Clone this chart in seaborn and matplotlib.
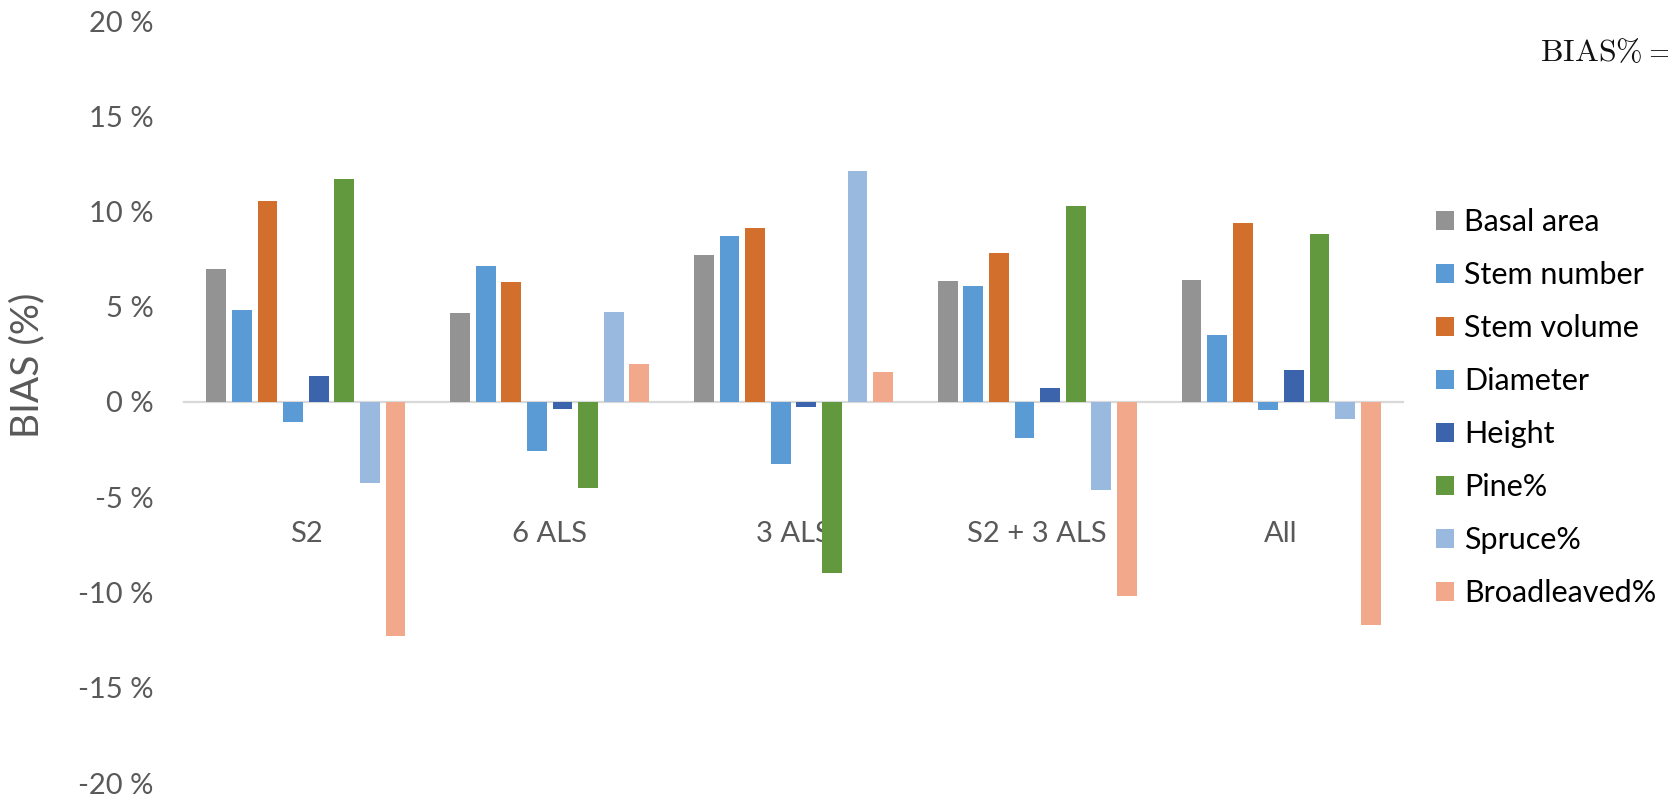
import numpy as np
import pandas as pd
import matplotlib
matplotlib.use("Agg")
import matplotlib.pyplot as plt
import seaborn as sns

categories = ["S2", "6 ALS", "3 ALS", "S2 + 3 ALS", "All"]
series = ["Basal area", "Stem number", "Stem volume", "Diameter",
          "Height", "Pine%", "Spruce%", "Broadleaved%"]
basal_area = [7.0, 4.65, 7.7, 6.35, 6.4]
stem_number = [4.85, 7.15, 8.7, 6.1, 3.5]
stem_volume = [10.55, 6.3, 9.15, 7.8, 9.4]
diameter = [-1.07, -2.56, -3.25, -1.9, -0.43]
height = [1.35, -0.35, -0.27, 0.72, 1.68]
pine = [11.7, -4.53, -9.0, 10.3, 8.8]
spruce = [-4.24, 4.75, 12.1, -4.6, -0.9]
broadleaved = [-12.3, 1.97, 1.6, -10.2, -11.7]
y_ticks = [-20, -15, -10, -5, 0, 5, 10, 15, 20]
y_tick_labels = ["-20 %", "-15 %", "-10 %", "-5 %", "0 %", "5 %", "10 %", "15 %", "20 %"]

values = [basal_area, stem_number, stem_volume, diameter, height, pine, spruce, broadleaved]
colors = ["#939393", "#5B9BD5", "#D36F2C", "#5B9BD5",
          "#3C64AD", "#62993E", "#99B9DF", "#F1A88B"]

rows = []
for s, vals in zip(series, values):
    for c, v in zip(categories, vals):
        rows.append({"Category": c, "Variable": s, "Bias": v})
df = pd.DataFrame(rows)

sns.set_theme(style="white")
plt.rcParams["font.family"] = ["Lato", "DejaVu Sans"]
text_color = "#595959"

fig = plt.figure(figsize=(16.68, 7.96), dpi=100)
ax = fig.add_axes([184 / 1668, 13 / 796, 1219 / 1668, 762 / 796])

sns.barplot(data=df, x="Category", y="Bias", hue="Variable",
            order=categories, hue_order=series, palette=colors,
            width=0.84, gap=0.23, saturation=1, linewidth=0,
            errorbar=None, ax=ax, legend=True)

ax.set_ylim(-20, 20)
ax.set_xlim(-0.5, len(categories) - 0.5)
ax.set_yticks(y_ticks)
ax.set_yticklabels(y_tick_labels)
ax.set_xlabel("")
ax.set_ylabel("")
for side in ["top", "right", "left"]:
    ax.spines[side].set_visible(False)
ax.spines["bottom"].set_position(("data", 0))
ax.spines["bottom"].set_color("#D9D9D9")
ax.spines["bottom"].set_linewidth(1.6)
ax.spines["bottom"].set_zorder(0.5)
ax.tick_params(axis="y", length=0, pad=22, labelsize=21, labelcolor=text_color)
ax.tick_params(axis="x", length=0, pad=86, labelsize=21, labelcolor=text_color)
ax.grid(False)

fig.text(27 / 1668, 1 - 365 / 796, "BIAS (%)", rotation=90, ha="center",
         va="center", fontsize=28, color=text_color)

handles, labels = ax.get_legend_handles_labels()
ax.get_legend().remove()
fig.legend(handles, labels, loc="upper left",
           bbox_to_anchor=(1436 / 1668, 1 - 208 / 796), frameon=False,
           fontsize=22, handlelength=0.59, handleheight=0.59,
           handletextpad=0.33, labelspacing=0.82, labelcolor="#000000",
           borderaxespad=0, borderpad=0)

fig.text(1540 / 1668, 1 - 62 / 796,
         r"$\mathrm{BIAS\%}=\dfrac{BIAS}{\bar{y}}$",
         fontsize=23, math_fontfamily="cm", ha="left", va="baseline",
         color="#111111")

fig.savefig("out.png", dpi=100)
